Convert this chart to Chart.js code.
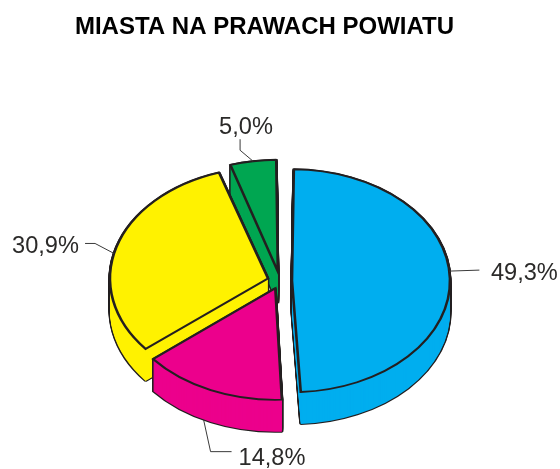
<!DOCTYPE html>
<html>
<head>
<meta charset="utf-8">
<style>html,body{margin:0;padding:0;background:#fff}#w{width:560px;height:469px}</style>
<script src="https://cdn.jsdelivr.net/npm/chart.js@4"></script>
</head>
<body>
<div id="w"><canvas id="c" width="560" height="469"></canvas></div>
<script>
const titleText = 'MIASTA NA PRAWACH POWIATU';
const categories = ['Niebieski', 'Różowy', 'Żółty', 'Zielony'];
const values = [49.3, 14.8, 30.9, 5.0];
const valueLabels = ['49,3%', '14,8%', '30,9%', '5,0%'];
const colors = ['#00AEEF', '#EC008C', '#FFF200', '#00A651'];
const explode = [48, 46, 50, 56];

// styling of the tilted, extruded look
const TILT = 0.705, DEPTH = 32, RADIUS = 158;
const INK = '#231F20', LABEL = '#2b2a29';
const DRAW_ORDER = [3, 2, 0, 1];
// label callouts: anchor angle on the rim (deg clockwise from top), on bottom rim or not,
// elbow offsets from the anchor, text offset from the anchor
const callouts = [
  {a: 85,  low: false, path: [[30, -1]], text: [41.5, 9]},
  {a: 207, low: true,  path: [[7, 32], [28, 32]], text: [35, 45]},
  {a: 283, low: false, path: [[-19, -10], [-29, -10]], text: [-102, 0]},
  {a: 351, low: false, path: [[-13, -11], [-13, -22]], text: [-34, -27]}
];

function withOptions(el, patch, fn) {
  const base = el.options;
  el.options = Object.assign({}, base, patch);
  fn();
  el.options = base;
}
function tilted(ctx, el, dy, fn) {
  ctx.save();
  ctx.translate(el.x, el.y + dy);
  ctx.scale(1, TILT);
  ctx.translate(-el.x, -el.y);
  fn();
  ctx.restore();
}
const pie3d = {
  id: 'pie3d',
  afterLayout(chart) {
    const t = chart.titleBlock;
    t.left -= 15.5; t.right -= 15.5;
  },
  beforeDatasetsDraw(chart) {
    const ctx = chart.ctx;
    const arcs = chart.getDatasetMeta(0).data;
    // Chart.js widens an offset arc's rim; cancel that so all slices share one radius
    arcs.forEach(el => {
      const off = el.options.offset / 4;
      const fix = 1 - Math.sin(Math.min(Math.PI, el.circumference));
      el.outerRadius = RADIUS - off * fix;
    });
    DRAW_ORDER.forEach(i => {
      const el = arcs[i];
      for (let d = DEPTH; d >= 0; d--) {
        tilted(ctx, el, d, () => withOptions(el, {backgroundColor: INK, borderColor: INK, borderWidth: 3}, () => el.draw(ctx)));
      }
      for (let d = DEPTH; d >= 0; d--) {
        tilted(ctx, el, d, () => withOptions(el, {borderWidth: 0}, () => el.draw(ctx)));
      }
      tilted(ctx, el, 0, () => withOptions(el, {borderColor: INK, borderWidth: 2.6, borderJoinStyle: 'miter'}, () => el.draw(ctx)));
    });
    ctx.save();
    ctx.font = '23.6px "Liberation Sans", Arial, sans-serif';
    ctx.textBaseline = 'alphabetic';
    ctx.textAlign = 'left';
    callouts.forEach((c, i) => {
      const el = arcs[i];
      const off = el.options.offset / 4;
      const mid = (el.startAngle + el.endAngle) / 2;
      const th = (c.a - 90) * Math.PI / 180;
      const ax = el.x + Math.cos(mid) * off + Math.cos(th) * RADIUS;
      const ay = el.y + (Math.sin(mid) * off + Math.sin(th) * RADIUS) * TILT + (c.low ? DEPTH : 0);
      ctx.strokeStyle = '#3a3a3a';
      ctx.lineWidth = 1;
      ctx.beginPath();
      ctx.moveTo(ax, ay);
      c.path.forEach(p => ctx.lineTo(ax + p[0], ay + p[1]));
      ctx.stroke();
      ctx.fillStyle = LABEL;
      ctx.fillText(valueLabels[i], ax + c.text[0], ay + c.text[1]);
    });
    ctx.restore();
    return false;
  }
};
new Chart(document.getElementById('c'), {
  type: 'pie',
  data: {
    labels: categories,
    datasets: [{
      data: values,
      backgroundColor: colors,
      offset: explode,
      hoverOffset: 0,
      borderWidth: 0
    }]
  },
  plugins: [pie3d],
  options: {
    responsive: false,
    animation: false,
    radius: RADIUS,
    layout: {padding: 0},
    events: [],
    plugins: {
      legend: {display: false},
      tooltip: {enabled: false},
      title: {
        display: true,
        text: titleText,
        color: '#000',
        font: {family: '"Liberation Sans", Arial, sans-serif', size: 24, weight: 'bold', lineHeight: 1.2},
        padding: {top: 13, bottom: 51.2}
      }
    }
  }
});
</script>
</body>
</html>
